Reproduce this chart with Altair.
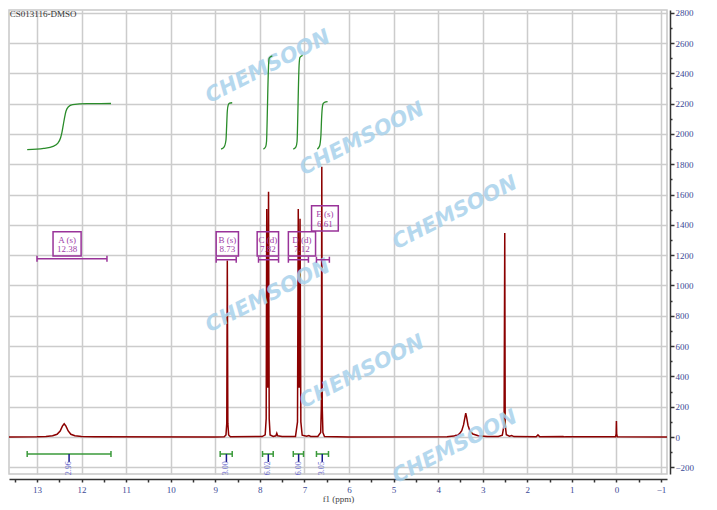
import altair as alt
import pandas as pd

# ---------------- data ----------------
# 1H spectrum trace vertices (ppm, intensity)
spec_ppm = [13.628, 13.0, 12.8, 12.65, 12.55, 12.48, 12.43, 12.39, 12.35, 12.30, 12.24, 12.15, 12.0, 11.7,
            9.0, 8.80, 8.76, 8.742, 8.73, 8.718, 8.70, 8.66,
            7.95, 7.88, 7.858, 7.845, 7.828, 7.822, 7.805, 7.79, 7.77, 7.70, 7.64, 7.62, 7.60, 7.50,
            7.20, 7.155, 7.138, 7.122, 7.115, 7.098, 7.08, 7.05, 6.95, 6.90, 6.86,
            6.70, 6.635, 6.62, 6.61, 6.60, 6.585, 6.55, 6.0,
            3.80, 3.65, 3.60, 3.57, 3.52, 3.47, 3.43, 3.40, 3.38, 3.36, 3.33, 3.29, 3.22, 3.10, 2.90,
            2.65, 2.56, 2.52, 2.505, 2.495, 2.47, 2.40, 2.35, 2.30,
            1.80, 1.76, 1.72, 1.20, 1.15, 0.02, 0.006, 0.0, -0.006, -0.02, -1.135]
spec_int = [0, 1, 3, 8, 18, 40, 72, 88, 72, 40, 18, 8, 3, 1,
            0, 2, 14, 90, 1165, 90, 14, 2,
            3, 14, 120, 1505, 330, 330, 1618, 120, 14, 4, 8, 25, 8, 3,
            4, 100, 1505, 330, 330, 1440, 100, 12, 5, 10, 4,
            4, 30, 200, 1783, 200, 30, 4, 0,
            2, 6, 12, 10, 22, 42, 80, 128, 158, 130, 78, 42, 20, 9, 4,
            4, 12, 80, 1347, 80, 15, 5, 10, 3,
            2, 14, 2, 3, 1, 1, 20, 105, 20, 1, 0]

# integral curves (group, ppm, level)
int_group = ["A"] * 13 + ["B"] * 8 + ["C"] * 8 + ["D"] * 8 + ["E"] * 8
int_ppm = [13.22, 12.85, 12.64, 12.53, 12.47, 12.44, 12.41, 12.38, 12.35, 12.30, 12.20, 11.88, 11.34,
           8.87, 8.80, 8.76, 8.745, 8.73, 8.71, 8.68, 8.62,
           7.92, 7.87, 7.85, 7.835, 7.82, 7.805, 7.79, 7.72,
           7.25, 7.19, 7.165, 7.15, 7.135, 7.12, 7.10, 7.04,
           6.71, 6.66, 6.63, 6.615, 6.60, 6.58, 6.55, 6.48]
int_val = [1896, 1905, 1918, 1940, 1975, 2010, 2060, 2110, 2150, 2178, 2193, 2200, 2201,
           1900, 1915, 1960, 2050, 2150, 2190, 2203, 2206,
           1900, 1915, 1950, 2100, 2300, 2450, 2500, 2515,
           1900, 1915, 1950, 2100, 2300, 2450, 2505, 2518,
           1900, 1920, 1990, 2100, 2170, 2200, 2208, 2213]

# integral brackets at the bottom
ib_from = [13.22, 8.89, 7.94, 7.25, 6.73]
ib_to = [11.34, 8.62, 7.70, 7.02, 6.46]
ib_center = [12.28, 8.75, 7.81, 7.13, 6.60]
ib_text = ["2.96", "3.00", "6.02", "6.00", "3.05"]

# multiplet annotation boxes
mb_line1 = ["A (s)", "B (s)", "C (d)", "D (d)", "E (s)"]
mb_line2 = ["12.38", "8.73", "7.82", "7.12", "6.61"]
mb_x1 = [12.64, 8.98, 8.06, 7.36, 6.84]
mb_x2 = [12.01, 8.48, 7.58, 6.75, 6.24]
mb_ytop = [1354, 1354, 1354, 1354, 1526]
mb_ybot = [1195, 1195, 1195, 1195, 1360]
mb_t1 = [1301, 1301, 1301, 1301, 1473]
mb_t2 = [1242, 1242, 1242, 1242, 1407]
mbr_from = [13.0, 8.98, 8.03, 7.36, 6.73]
mbr_to = [11.43, 8.53, 7.58, 6.91, 6.44]
mbr_y = [1176, 1170, 1170, 1170, 1170]

# watermark positions
wm_ppm = [7.817, 5.708, 3.622, 7.817, 5.708, 3.622]
wm_val = [2442, 1966, 1478, 930, 429, -66]

# ---------------- chart ----------------
XD = [13.628, -1.135]
YD = [-244, 2818]
xs = alt.Scale(domain=XD, nice=False, zero=False)
ys = alt.Scale(domain=YD, nice=False, zero=False)

serif = "Liberation Serif"
lab_col = "#3c4a96"

x_ticks = [13.5 - 0.5 * i for i in range(30)]
y_ticks = [-200 + 100 * i for i in range(31)]

xaxis = alt.Axis(values=x_ticks,
                 labelExpr="datum.value % 1 == 0 ? format(datum.value, 'd') : ''",
                 gridOpacity={"condition": {"test": "datum.value % 1 != 0", "value": 0}, "value": 1},
                 title="f1 (ppm)", titleFont=serif, titleFontSize=9, titleFontWeight="normal",
                 titleColor="#444444", titlePadding=0, offset=5, tickSize=3, labelPadding=3,
                 labelFont=serif, labelFontSize=9, labelColor=lab_col, domainColor="#333333",
                 domainWidth=1.5, tickColor="#333333", tickWidth=1.5, labelFlush=False)
yaxis = alt.Axis(orient="right", values=y_ticks,
                 labelExpr="datum.value % 200 == 0 ? format(datum.value, 'd') : ''",
                 gridOpacity={"condition": {"test": "datum.value % 200 != 0", "value": 0}, "value": 1},
                 tickSize={"condition": {"test": "datum.value % 200 != 0", "value": 2}, "value": 4},
                 title=None, offset=3, labelPadding=1, labelFont=serif, labelFontSize=9,
                 labelColor=lab_col, domainColor="#333333", domainWidth=1.5,
                 tickColor="#333333", tickWidth=1.5, labelFlush=False)


def X(f):
    return alt.X(f, scale=xs, axis=xaxis)


def Y(f):
    return alt.Y(f, scale=ys, axis=yaxis)


spec_df = pd.DataFrame({"ppm": spec_ppm, "val": spec_int, "i": range(len(spec_ppm))})
spectrum = alt.Chart(spec_df).mark_line(color="#8b0000", strokeWidth=1.5).encode(
    x=X("ppm:Q"), y=Y("val:Q"), order="i:Q",
)

int_df = pd.DataFrame({"g": int_group, "ppm": int_ppm, "val": int_val, "i": range(len(int_ppm))})
integrals = alt.Chart(int_df).mark_line(color="#2a8c2a", strokeWidth=1.3, interpolate="monotone").encode(
    x=X("ppm:Q"), y=Y("val:Q"), detail="g:N", order="i:Q",
)

ib_df = pd.DataFrame({"a": ib_from, "b": ib_to, "c": ib_center, "t": ib_text})
ib_df["y"] = -112
ib_df["ylo"] = -132
ib_df["yhi"] = -92
ib_df["yc"] = -165
ib_df["yt"] = -206
green = "#3a9a3a"
ib_line = alt.Chart(ib_df).mark_rule(color=green, strokeWidth=1.5).encode(
    x=X("a:Q"), x2="b:Q", y=Y("y:Q"))
ib_end1 = alt.Chart(ib_df).mark_rule(color=green, strokeWidth=1.5).encode(
    x=X("a:Q"), y=Y("ylo:Q"), y2="yhi:Q")
ib_end2 = alt.Chart(ib_df).mark_rule(color=green, strokeWidth=1.5).encode(
    x=X("b:Q"), y=Y("ylo:Q"), y2="yhi:Q")
ib_mid = alt.Chart(ib_df).mark_rule(color="#1a1a8c", strokeWidth=1.5).encode(
    x=X("c:Q"), y=Y("y:Q"), y2="yc:Q")
ib_txt = alt.Chart(ib_df).mark_text(angle=270, font=serif, fontSize=8, color="#6a6acd",
                                    align="center", baseline="middle").encode(
    x=X("c:Q"), y=Y("yt:Q"), text="t:N")

purple = "#993399"
mb_df = pd.DataFrame({"x1": mb_x1, "x2": mb_x2, "yt": mb_ytop, "yb": mb_ybot,
                      "t1": mb_line1, "t2": mb_line2, "y1": mb_t1, "y2": mb_t2,
                      "ba": mbr_from, "bb": mbr_to, "by": mbr_y})
mb_df["xc"] = (mb_df["x1"] + mb_df["x2"]) / 2
mb_df["bylo"] = mb_df["by"] - 20
mb_df["byhi"] = mb_df["by"] + 20
boxes = alt.Chart(mb_df).mark_rect(fillOpacity=0, stroke=purple, strokeWidth=1.5).encode(
    x=X("x1:Q"), x2="x2:Q", y=Y("yb:Q"), y2="yt:Q")
box_t1 = alt.Chart(mb_df).mark_text(font=serif, fontSize=9, color="#a040a8").encode(
    x=X("xc:Q"), y=Y("y1:Q"), text="t1:N")
box_t2 = alt.Chart(mb_df).mark_text(font=serif, fontSize=9, color="#a040a8").encode(
    x=X("xc:Q"), y=Y("y2:Q"), text="t2:N")
br_line = alt.Chart(mb_df).mark_rule(color=purple, strokeWidth=1.5).encode(
    x=X("ba:Q"), x2="bb:Q", y=Y("by:Q"))
br_e1 = alt.Chart(mb_df).mark_rule(color=purple, strokeWidth=1.5).encode(
    x=X("ba:Q"), y=Y("bylo:Q"), y2="byhi:Q")
br_e2 = alt.Chart(mb_df).mark_rule(color=purple, strokeWidth=1.5).encode(
    x=X("bb:Q"), y=Y("bylo:Q"), y2="byhi:Q")

wm_df = pd.DataFrame({"ppm": wm_ppm, "val": wm_val, "t": ["CHEMSOON"] * len(wm_ppm)})
watermark = alt.Chart(wm_df).mark_text(font="DejaVu Sans", fontSize=21, fontWeight="bold",
                                       fontStyle="italic", angle=333, color="#a9d2ec",
                                       opacity=0.85).encode(
    x=X("ppm:Q"), y=Y("val:Q"), text="t:N")

title_df = pd.DataFrame({"ppm": [13.61], "val": [2792], "t": ["CS013116-DMSO"]})
title_txt = alt.Chart(title_df).mark_text(font=serif, fontSize=9, color="#333333",
                                          align="left", baseline="middle").encode(
    x=X("ppm:Q"), y=Y("val:Q"), text="t:N")

chart = alt.layer(
    spectrum, watermark, integrals,
    ib_line, ib_end1, ib_end2, ib_mid, ib_txt,
    boxes, box_t1, box_t2, br_line, br_e1, br_e2,
    title_txt,
).properties(
    width=658, height=464,
    autosize=alt.AutoSizeParams(type="none"),
    padding={"left": 1, "top": 2, "right": 40, "bottom": 32},
).configure_view(
    stroke="#c8c8c8", strokeWidth=1.5,
).configure_axis(
    gridColor="#cccccc", gridWidth=1.5,
)

chart.save("out.html", embed_options={"renderer": "svg", "actions": False})
